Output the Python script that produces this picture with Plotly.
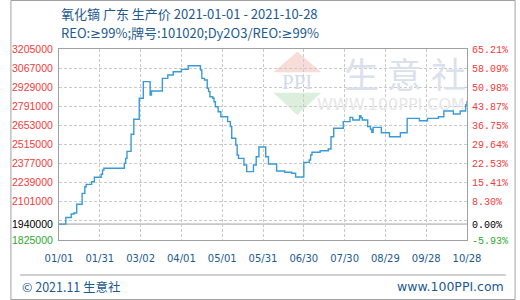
import plotly.graph_objects as go

# ---------------- data ----------------
dates = ["2021-01-01", "2021-01-06", "2021-01-10", "2021-01-12", "2021-01-14", "2021-01-18",
         "2021-01-20", "2021-01-21", "2021-01-25", "2021-01-27", "2021-02-01", "2021-02-02",
         "2021-02-03", "2021-02-18", "2021-02-19", "2021-02-20", "2021-02-23", "2021-02-25",
         "2021-03-01", "2021-03-04", "2021-03-09", "2021-03-10", "2021-03-18", "2021-03-22",
         "2021-03-26", "2021-04-01", "2021-04-06", "2021-04-15", "2021-04-16", "2021-04-18",
         "2021-04-20", "2021-04-21", "2021-04-22", "2021-04-24", "2021-04-25", "2021-04-26",
         "2021-04-28", "2021-04-30", "2021-05-05", "2021-05-07", "2021-05-08", "2021-05-11",
         "2021-05-12", "2021-05-13", "2021-05-17", "2021-05-19", "2021-05-24", "2021-05-26",
         "2021-05-28", "2021-06-02", "2021-06-04", "2021-06-10", "2021-06-16", "2021-06-21",
         "2021-06-24", "2021-06-30", "2021-07-04", "2021-07-05", "2021-07-06", "2021-07-12",
         "2021-07-18", "2021-07-20", "2021-07-22", "2021-07-29", "2021-08-03", "2021-08-05",
         "2021-08-10", "2021-08-11", "2021-08-12", "2021-08-16", "2021-08-18", "2021-08-19",
         "2021-08-20", "2021-08-26", "2021-09-01", "2021-09-09", "2021-09-14", "2021-09-23",
         "2021-09-29", "2021-10-07", "2021-10-11", "2021-10-18", "2021-10-23", "2021-10-27",
         "2021-10-28"]
prices = [1940000, 1988000, 2013000, 2020000, 2083000, 2162000,
          2210000, 2227000, 2246000, 2278000, 2300000, 2330000,
          2343000, 2380000, 2415000, 2465000, 2589000, 2697000,
          2849000, 2969000, 2873000, 2902000, 2993000, 3017000,
          3041000, 3058000, 3084000, 3053000, 2993000, 2981000,
          2921000, 2897000, 2860000, 2849000, 2824000, 2788000,
          2752000, 2716000, 2680000, 2644000, 2560000, 2511000,
          2439000, 2415000, 2367000, 2319000, 2367000, 2427000,
          2497000, 2427000, 2374000, 2323000, 2314000, 2307000,
          2280000, 2386000, 2403000, 2439000, 2459000, 2470000,
          2482000, 2571000, 2632000, 2680000, 2711000, 2692000,
          2723000, 2709000, 2692000, 2644000, 2625000, 2603000,
          2639000, 2600000, 2571000, 2600000, 2704000, 2687000,
          2704000, 2716000, 2757000, 2735000, 2757000, 2800000,
          2830000]

base_price = 1940000
y_min, y_max = 1825000, 3205000
grid_step = 138000
x_tick_dates = ["2021-01-01", "2021-01-31", "2021-03-02", "2021-04-01", "2021-05-01",
                "2021-05-31", "2021-06-30", "2021-07-30", "2021-08-29", "2021-09-28",
                "2021-10-28"]
x_tick_labels = ["01/01", "01/31", "03/02", "04/01", "05/01", "05/31", "06/30",
                 "07/30", "08/29", "09/28", "10/28"]
title1 = "氧化镝 广东 生产价 2021-01-01 - 2021-10-28"
title2 = "REO:≥99%;牌号:101020;Dy2O3/REO:≥99%"
footer_left = "© 2021.11 生意社"
footer_right = "www.100PPI.com"

RED = "#f03a3a"
GREEN = "#2fa82f"
BLUE_TXT = "#1d5a8e"
GRID = "#c9c9c9"

# plot area in pixels
L, R, T, B = 50, 470, 49, 240
W, H = 520, 300


def px(xp):
    return (xp - L) / (R - L)


def py(yp):
    return (B - yp) / (B - T)


def pct(v):
    return (v / base_price - 1) * 100


# tick values / labels
grid_vals = [y_min + grid_step * k for k in range(11)]
lt_vals, lt_text, rt_vals, rt_text = [], [], [], []
for k, v in enumerate(grid_vals):
    col = GREEN if k == 0 else RED
    lab = "" if k == 1 else str(v)
    lt_vals.append(v)
    lt_text.append(f'<span style="color:{col}">{lab}</span>' if lab else "")
    rt_vals.append(pct(v))
    rl = "" if k == 1 else f"{pct(v):.2f}%"
    rt_text.append(f'<span style="color:{col}">{rl}</span>' if rl else "")
lt_vals.append(base_price)
lt_text.append('<span style="color:#000000">1940000</span>')
rt_vals.append(0.0)
rt_text.append('<span style="color:#000000">0.00%</span>')

fig = go.Figure()
fig.add_trace(go.Scatter(
    x=dates, y=prices, mode="lines", line=dict(color="#3a9ad8", width=1.4, shape="hv"),
    hoverinfo="skip", showlegend=False))
fig.add_trace(go.Scatter(
    x=dates, y=[pct(v) for v in prices], mode="lines", yaxis="y2",
    line=dict(color="rgba(0,0,0,0)", width=0, shape="hv"), hoverinfo="skip", showlegend=False))

fig.update_layout(
    width=W, height=H,
    margin=dict(l=L, r=W - R, t=T, b=H - B, pad=0),
    paper_bgcolor="white", plot_bgcolor="white",
    showlegend=False,
    xaxis=dict(
        type="date", range=[x_tick_dates[0], x_tick_dates[-1]],
        tickmode="array", tickvals=x_tick_dates, ticktext=x_tick_labels,
        showgrid=True, gridcolor=GRID, griddash="3px,2px", gridwidth=1,
        showline=True, linecolor="#a0a0a0", linewidth=1, mirror=True,
        ticks="", ticklabelstandoff=9,
        tickfont=dict(family="DejaVu Sans", size=10, color=BLUE_TXT),
        zeroline=False, fixedrange=True),
    yaxis=dict(
        range=[y_min, y_max], tickmode="array", tickvals=lt_vals, ticktext=lt_text,
        showgrid=True, gridcolor=GRID, griddash="3px,2px", gridwidth=1,
        showline=True, linecolor="#a0a0a0", linewidth=1, mirror=True,
        ticks="", ticklabelstandoff=3,
        tickfont=dict(family="Liberation Sans", size=10.5, color=RED),
        zeroline=False, fixedrange=True),
    yaxis2=dict(
        overlaying="y", side="right", range=[pct(y_min), pct(y_max)],
        tickmode="array", tickvals=rt_vals, ticktext=rt_text,
        showgrid=False, showline=False, ticks="", ticklabelstandoff=4,
        tickfont=dict(family="Liberation Mono", size=10, color=RED),
        zeroline=False, fixedrange=True),
)

shapes = []
# base line (solid) at 1940000
shapes.append(dict(type="line", xref="paper", yref="y", x0=0, x1=1, y0=base_price, y1=base_price,
                   line=dict(color="#9a9a9a", width=1), layer="below"))
# watermark logo triangles
shapes.append(dict(type="path", xref="paper", yref="paper", layer="below",
                   path=f"M {px(270.7)} {py(72.3)} L {px(295.3)} {py(51.7)} L {px(320)} {py(72.3)} Z",
                   fillcolor="#f8dcd8", line=dict(width=0)))
shapes.append(dict(type="path", xref="paper", yref="paper", layer="below",
                   path=f"M {px(270.7)} {py(92.7)} L {px(320)} {py(92.7)} L {px(295.3)} {py(115)} Z",
                   fillcolor="#dcefdc", line=dict(width=0)))
# footer separator line
shapes.append(dict(type="line", xref="paper", yref="paper", x0=px(10), x1=px(510),
                   y0=py(275), y1=py(275), line=dict(color="#a0a0a0", width=1)))
# outer border
shapes.append(dict(type="rect", xref="paper", yref="paper", x0=px(0.5), x1=px(519.5),
                   y0=py(0.5), y1=py(299.5), line=dict(color="#a0a0a0", width=1)))
fig.update_layout(shapes=shapes)


def fix_ge(s):
    return s.replace("≥", '<span style="font-family:DejaVu Sans">≥</span>')


ann = []
ann.append(dict(text="PPI", xref="paper", yref="paper", x=px(295.3), y=py(82), showarrow=False,
                font=dict(family="Liberation Serif", size=21, color="#d3dbea"), xanchor="center",
                yanchor="middle"))
for ch, cx in zip(["生", "意", "社"], [361, 406, 451]):
    ann.append(dict(text=ch, xref="paper", yref="paper", x=px(cx), y=py(72), showarrow=False,
                    font=dict(family="Noto Sans CJK SC", size=35, color="#dbe1ec"),
                    xanchor="center", yanchor="middle"))
ann.append(dict(text="WWW.100PPI.COM", xref="paper", yref="paper", x=px(470), y=py(104),
                showarrow=False, font=dict(family="DejaVu Sans", size=16, color="#e6e6e6"),
                xanchor="right", yanchor="middle"))
ann.append(dict(text=title1, xref="paper", yref="paper", x=px(50), y=py(14), showarrow=False,
                font=dict(family="Noto Sans CJK SC", size=13, color=BLUE_TXT),
                xanchor="left", yanchor="middle"))
ann.append(dict(text=fix_ge(title2), xref="paper", yref="paper", x=px(50), y=py(33),
                showarrow=False,
                font=dict(family="Noto Sans CJK SC", size=13, color=BLUE_TXT),
                xanchor="left", yanchor="middle"))
ann.append(dict(text=footer_left, xref="paper", yref="paper", x=px(10), y=py(286), showarrow=False,
                font=dict(family="Noto Sans CJK SC", size=12.5, color=BLUE_TXT),
                xanchor="left", yanchor="middle"))
ann.append(dict(text=footer_right, xref="paper", yref="paper", x=px(510), y=py(286),
                showarrow=False, font=dict(family="DejaVu Sans", size=12.5, color=BLUE_TXT),
                xanchor="right", yanchor="middle"))
fig.update_layout(annotations=ann)

fig.write_html("out.html", config={"displayModeBar": False})
